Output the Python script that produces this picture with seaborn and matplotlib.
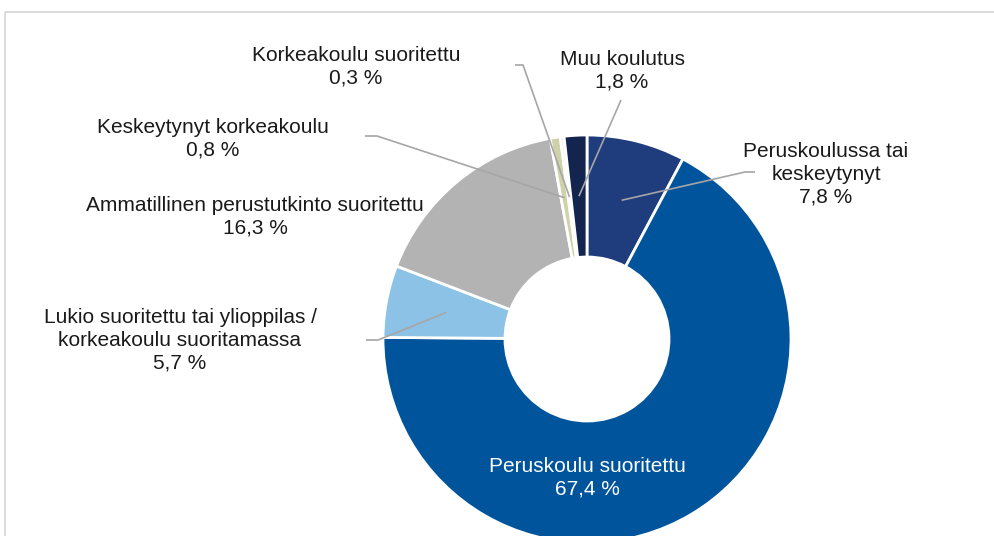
import matplotlib
matplotlib.use("Agg")
import matplotlib.pyplot as plt
import seaborn as sns
import numpy as np
from matplotlib.patches import Rectangle

# ---- data ----
categories = [
    "Peruskoulussa tai\nkeskeytynyt",
    "Peruskoulu suoritettu",
    "Lukio suoritettu tai ylioppilas /\nkorkeakoulu suoritamassa",
    "Ammatillinen perustutkinto suoritettu",
    "Keskeytynyt korkeakoulu",
    "Korkeakoulu suoritettu",
    "Muu koulutus",
]
values = [7.8, 67.4, 5.7, 16.3, 0.8, 0.3, 1.8]
colors = ["#1F3C7C", "#00549C", "#8CC2E6", "#B3B3B3", "#CFD2A9", "#F2F2F2", "#13244E"]

sns.set_theme(style="white")
plt.rcParams['font.family'] = ['Liberation Sans', 'DejaVu Sans']

W, H = 994, 536
fig = plt.figure(figsize=(W / 100, H / 100), dpi=100)
ax = fig.add_axes([0, 0, 1, 1])

cx, cy, R, Rin = 587, 339, 204, 82
wedges, _ = ax.pie(values, colors=colors, startangle=-90, counterclock=True,
                   radius=R, center=(cx, cy),
                   wedgeprops=dict(width=R - Rin, edgecolor="white", linewidth=2.0))
ax.set_xlim(0, W)
ax.set_ylim(H, 0)
ax.set_aspect("equal")
ax.axis("off")

# frame
ax.add_patch(Rectangle((5, 12), 1200, 700, fill=False, ec="#D9D9D9", lw=1.3))

def label_text(i):
    return f"{categories[i]}\n{str(values[i]).replace('.', ',')} %"

def mid_point(i):
    w = wedges[i]
    th = np.deg2rad((w.theta1 + w.theta2) / 2)
    rm = (R + Rin) / 2
    return cx + rm * np.cos(th), cy + rm * np.sin(th)

# label positions (center of text block) and leader starts
label_pos = {
    0: (826, 174),
    1: (587, 478),
    2: (180, 340),
    3: (255, 217),
    4: (213, 139),
    5: (356, 67),
    6: (622, 71),
}
leader = {
    0: [(755, 172), (745, 172)],
    2: [(366, 340), (378, 340)],
    4: [(365, 136), (377, 136)],
    5: [(515, 65), (523, 65)],
    6: [(621, 100)],
}

fs = 15
for i in range(len(values)):
    x, y = label_pos[i]
    col = "white" if i == 1 else "#1A1A1A"
    ax.text(x, y, label_text(i), ha="center", va="center", multialignment="center",
            fontsize=fs, color=col, linespacing=1.25)

for i, pts in leader.items():
    ex, ey = mid_point(i)
    xs = [p[0] for p in pts] + [ex]
    ys = [p[1] for p in pts] + [ey]
    ax.plot(xs, ys, color="#A6A6A6", lw=1.2, solid_capstyle="butt")

fig.savefig("out.png", dpi=100)
